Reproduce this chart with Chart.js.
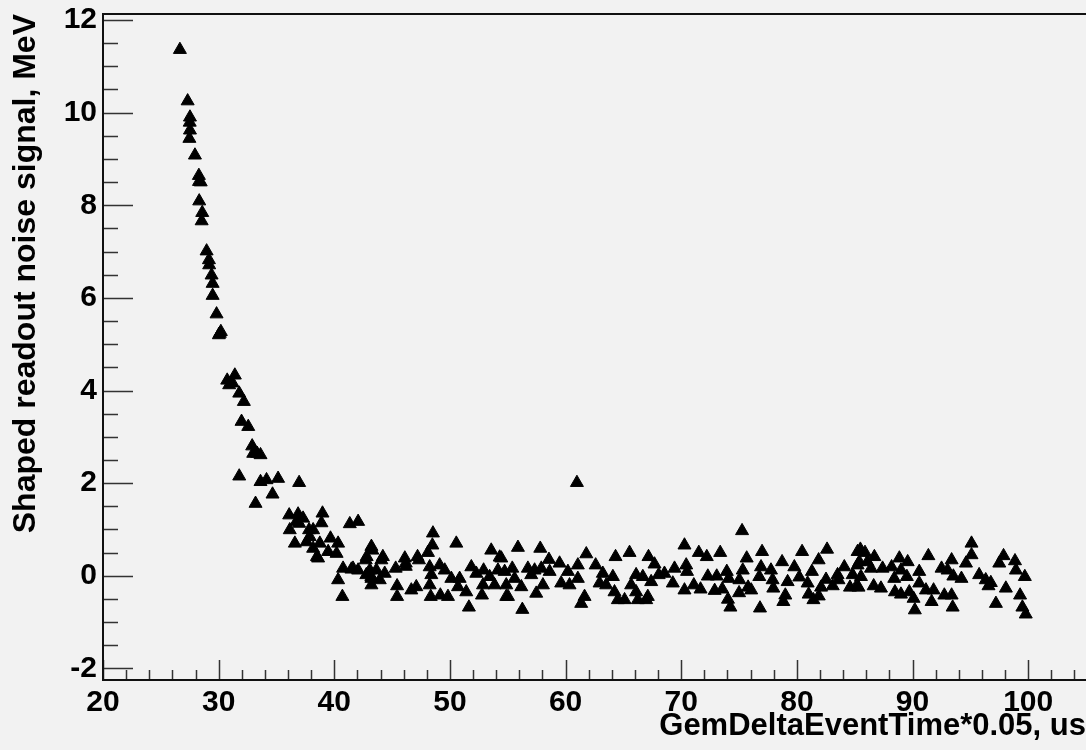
<!DOCTYPE html>
<html>
<head>
<meta charset="utf-8">
<title>Shaped readout noise signal</title>
<script src="https://cdn.jsdelivr.net/npm/chart.js@4"></script>
<style>
  html, body { margin: 0; padding: 0; background: #f2f2f2; }
  #plot { display: block; }
</style>
</head>
<body>
<canvas id="plot" width="1086" height="750"></canvas>
<script>
// axis ranges and tick labels
const xRange = [20, 105];
const yRange = [-2.25, 12.13];
const xTicks = [20, 30, 40, 50, 60, 70, 80, 90, 100];
const yTicks = [-2, 0, 2, 4, 6, 8, 10, 12];
const xTitle = 'GemDeltaEventTime*0.05, us';
const yTitle = 'Shaped readout noise signal, MeV';

// data: the decay part
const decayTime = [
  26.65, 27.32, 27.52, 27.50, 27.52, 27.47, 27.95, 28.29, 28.30, 28.45,
  28.32, 28.58, 28.53, 28.96, 29.16, 29.18, 29.39, 29.48, 29.48, 29.82,
  30.19, 30.02, 30.10, 30.74, 31.40, 30.91, 31.20, 31.78, 32.18, 31.98,
  32.56, 32.90, 32.99, 33.33, 33.62, 31.78, 33.62, 34.14, 35.14, 36.96,
  34.66, 33.19
];
const decaySignal = [
  11.36, 10.25, 9.90, 9.79, 9.62, 9.44, 9.08, 8.64, 8.51, 8.50,
  8.09, 7.84, 7.66, 7.01, 6.82, 6.71, 6.49, 6.31, 6.05, 5.65,
  5.27, 5.20, 5.23, 4.22, 4.33, 4.12, 4.16, 3.94, 3.76, 3.33,
  3.22, 2.80, 2.64, 2.64, 2.61, 2.15, 2.03, 2.07, 2.10, 2.01,
  1.76, 1.56
];

// the flat noise part
const noiseTime = [
  36.10, 36.87, 37.30, 36.73, 38.98, 38.89, 36.96, 36.15, 37.82, 38.17,
  37.88, 37.60, 36.59, 38.75, 38.17, 39.67, 40.33, 39.47, 40.20, 38.60,
  38.50, 41.34, 42.06, 43.21, 43.29, 42.80, 42.72, 44.07, 44.20, 40.76,
  41.48, 42.06, 43.07, 43.64, 44.36, 42.77, 43.20, 40.33, 43.93, 43.21,
  43.21, 40.70, 41.62,
  45.31, 46.18, 46.18, 45.43, 45.43, 46.66, 47.09, 47.32, 46.10, 47.20,
  48.53, 48.48, 48.10, 48.25, 49.11, 49.55, 48.39, 48.25, 48.34, 49.17,
  49.83, 50.12, 50.84, 50.55, 50.70, 51.41, 51.64, 51.85, 52.28, 52.91,
  52.86, 52.77, 53.57, 54.30, 54.15, 53.43, 53.86, 54.87, 54.87, 54.73,
  60.98, 55.88, 57.81, 54.44, 58.56, 61.79, 64.32, 65.53, 67.17, 67.69,
  70.28, 70.43, 55.39, 56.74, 57.32, 57.90, 58.62, 59.48, 61.06, 60.20,
  62.60, 63.22, 64.09, 66.10, 66.68, 67.40, 68.55, 69.27, 69.42, 55.59,
  56.17, 57.03, 58.04, 57.46, 59.62, 60.34, 61.06, 55.02, 56.26, 61.64,
  61.35, 62.94, 63.51, 64.23, 64.52, 65.10, 65.67, 66.10, 66.25, 67.11,
  66.97, 70.28, 68.05,
  75.26, 71.52, 72.21, 73.37, 76.99, 80.45, 82.61, 85.25, 75.66, 78.72,
  81.88, 70.50, 72.30, 73.07, 73.94, 74.11, 75.32, 75.03, 76.90, 76.75,
  77.76, 77.90, 79.78, 80.21, 79.20, 81.30, 80.93, 82.52, 83.52, 84.10,
  84.82, 85.25, 71.09, 71.67, 72.89, 73.55, 74.04, 74.25, 75.00, 75.78,
  76.05, 76.81, 77.96, 79.00, 78.83, 81.02, 81.43, 81.89, 82.09, 83.10,
  83.60, 84.59, 85.33,
  95.10, 95.10, 85.49, 85.89, 86.70, 88.86, 89.58, 91.37, 93.38, 97.87,
  98.86, 85.40, 86.10, 87.41, 88.19, 89.00, 90.58, 92.51, 93.03, 94.62,
  97.50, 98.94, 85.54, 86.41, 88.42, 89.51, 93.53, 94.23, 95.76, 96.33,
  96.77, 99.71, 85.11, 86.64, 87.27, 90.58, 88.48, 89.00, 89.72, 90.09,
  91.16, 91.82, 91.65, 92.75, 93.38, 90.20, 93.47, 96.57, 98.07, 97.21,
  99.30, 99.50, 99.79
];
const noiseSignal = [
  1.31, 1.33, 1.24, 1.17, 1.35, 1.14, 1.13, 0.99, 0.99, 0.99,
  0.84, 0.73, 0.70, 0.70, 0.59, 0.81, 0.70, 0.52, 0.48, 0.38,
  0.41, 1.12, 1.17, 0.63, 0.55, 0.41, 0.34, 0.34, 0.41, 0.16,
  0.14, 0.12, 0.12, 0.12, 0.05, 0.02, -0.02, -0.09, -0.09, -0.20,
  -0.06, -0.45, 0.16,
  0.16, 0.27, 0.20, -0.22, -0.45, -0.31, -0.24, 0.34, 0.38, 0.41,
  0.92, 0.66, 0.50, 0.19, 0.23, 0.12, 0.02, -0.20, -0.45, -0.42,
  -0.45, -0.06, -0.06, 0.70, -0.24, -0.35, -0.68, 0.19, 0.05, 0.12,
  -0.20, -0.42, 0.55, 0.40, 0.12, -0.02, -0.20, -0.20, -0.45, 0.09,
  2.01, 0.61, 0.59, 0.38, 0.35, 0.47, 0.41, 0.50, 0.41, 0.25,
  0.66, 0.23, 0.16, 0.16, 0.12, 0.16, 0.09, 0.27, 0.23, 0.09,
  0.23, 0.05, -0.02, 0.02, -0.02, -0.13, 0.05, -0.16, 0.16, -0.06,
  -0.24, 0.02, -0.20, -0.38, -0.16, -0.20, -0.06, -0.45, -0.73, -0.45,
  -0.60, -0.16, -0.20, -0.35, -0.52, -0.52, -0.20, -0.35, -0.52, -0.45,
  -0.52, -0.31, 0.02,
  0.97, 0.50, 0.41, 0.50, 0.52, 0.52, 0.57, 0.52, 0.38, 0.30,
  0.34, 0.09, -0.01, -0.01, 0.09, -0.06, 0.12, -0.09, 0.19, -0.02,
  0.12, -0.09, 0.19, -0.03, -0.13, 0.09, -0.16, -0.08, 0.02, 0.19,
  0.02, 0.23, -0.20, -0.29, -0.32, -0.29, -0.51, -0.68, -0.37, -0.25,
  -0.31, -0.70, -0.27, -0.42, -0.56, -0.40, -0.52, -0.44, -0.25, -0.22,
  -0.09, -0.25, -0.25,
  0.70, 0.45, 0.57, 0.50, 0.41, 0.38, 0.30, 0.43, 0.34, 0.43,
  0.32, 0.30, 0.30, 0.16, 0.19, 0.12, 0.09, 0.16, 0.12, 0.27,
  0.27, 0.12, -0.02, 0.16, -0.06, -0.02, -0.01, -0.06, 0.02, -0.09,
  -0.15, -0.02, -0.24, -0.22, -0.27, -0.16, -0.35, -0.40, -0.35, -0.49,
  -0.31, -0.31, -0.56, -0.42, -0.42, -0.74, -0.68, -0.22, -0.27, -0.60,
  -0.42, -0.68, -0.83
];

const points = decayTime.map((t, i) => ({ x: t, y: decaySignal[i] }))
  .concat(noiseTime.map((t, i) => ({ x: t, y: noiseSignal[i] })));

const labelFont = { family: '"Liberation Sans", Arial, sans-serif', size: 30, weight: 'bold' };
const yTitleFont = { family: '"Liberation Sans", Arial, sans-serif', size: 32, weight: 'bold' };
const xTitleFont = { family: '"Liberation Sans", Arial, sans-serif', size: 31, weight: 'bold' };

// ROOT style frame with ticks pointing inwards
const frameTicks = {
  id: 'frameTicks',
  beforeDatasetsDraw(chart) {
    const { ctx, chartArea: a, scales: { x, y } } = chart;
    ctx.save();
    ctx.strokeStyle = '#333';
    ctx.lineWidth = 1.5;
    ctx.beginPath();
    for (let v = yTicks[0]; v <= yTicks[yTicks.length - 1] + 1e-9; v += 0.5) {
      const py = Math.round(y.getPixelForValue(v)) + 0.5;
      const len = Math.abs(v % 2) < 1e-9 ? 30 : 15;
      ctx.moveTo(a.left, py);
      ctx.lineTo(a.left + len, py);
    }
    for (let v = xTicks[0]; v < xRange[1]; v += 2) {
      const px = Math.round(x.getPixelForValue(v)) + 0.5;
      const len = v % 10 === 0 ? 20 : 10;
      ctx.moveTo(px, a.bottom);
      ctx.lineTo(px, a.bottom - len);
    }
    ctx.stroke();
    ctx.strokeStyle = '#111';
    ctx.lineWidth = 2;
    ctx.beginPath();
    ctx.moveTo(a.right + 2, a.top);
    ctx.lineTo(a.left, a.top);
    ctx.lineTo(a.left, a.bottom);
    ctx.lineTo(a.right + 2, a.bottom);
    ctx.stroke();
    ctx.restore();
  }
};

const ctx = document.getElementById('plot').getContext('2d');
new Chart(ctx, {
  type: 'scatter',
  data: {
    datasets: [{
      label: yTitle,
      data: points,
      pointStyle: 'triangle',
      pointRadius: 7.5,
      pointBackgroundColor: '#000',
      pointBorderColor: '#000',
      pointBorderWidth: 1,
      showLine: false
    }]
  },
  options: {
    responsive: false,
    animation: false,
    devicePixelRatio: 1,
    layout: { autoPadding: false, padding: { top: 14, right: 0, bottom: 0, left: 0 } },
    plugins: { legend: { display: false }, tooltip: { enabled: false } },
    scales: {
      x: {
        type: 'linear',
        min: xRange[0],
        max: xRange[1],
        afterBuildTicks: s => { s.ticks = xTicks.map(v => ({ value: v })); },
        afterFit: s => { s.height = 70; s.paddingLeft = 0; s.paddingRight = 0; },
        grid: { display: false, drawTicks: false },
        border: { display: false },
        ticks: { color: '#000', font: labelFont, padding: 5, maxRotation: 0 },
        title: { display: true, text: xTitle, align: 'end', color: '#000', font: xTitleFont, padding: { top: 0, bottom: 5 } }
      },
      y: {
        type: 'linear',
        min: yRange[0],
        max: yRange[1],
        afterBuildTicks: s => { s.ticks = yTicks.map(v => ({ value: v })); },
        afterFit: s => { s.width = 103; s.paddingTop = 0; s.paddingBottom = 0; },
        grid: { display: false, drawTicks: false },
        border: { display: false },
        ticks: { color: '#000', font: labelFont, padding: 6 },
        title: { display: true, text: yTitle, align: 'end', color: '#000', font: yTitleFont, padding: { top: 7, bottom: 0 } }
      }
    }
  },
  plugins: [frameTicks]
});
</script>
</body>
</html>
